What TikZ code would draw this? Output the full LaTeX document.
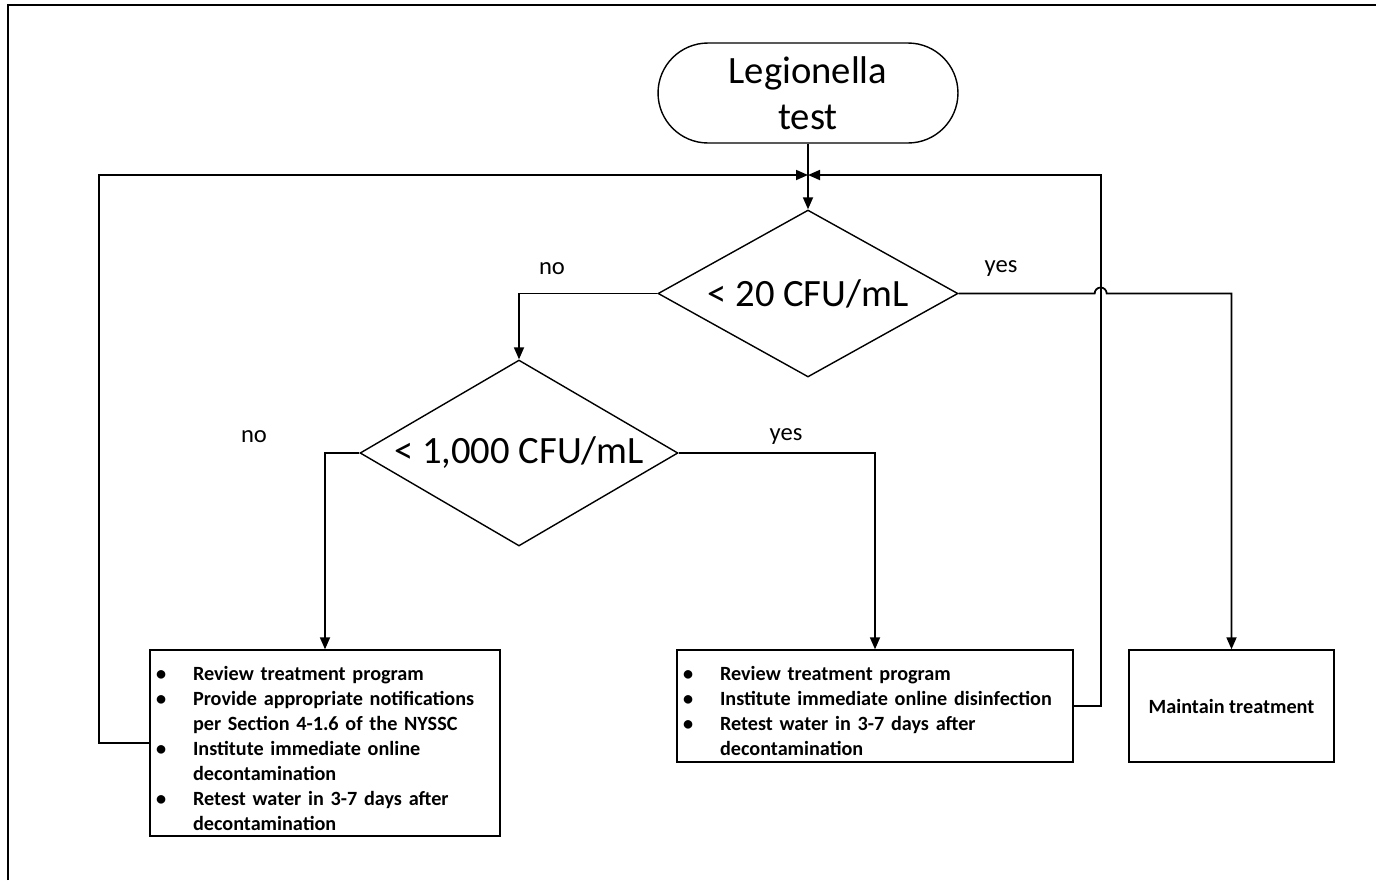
\documentclass[tikz,border=0pt]{standalone}
\usepackage{fontspec}
\setmainfont{Carlito}
\usetikzlibrary{shapes.geometric,arrows.meta,positioning}
\tikzset{
startbox/.style={
  draw, line width=0.8pt,
  rounded corners=1cm,
  minimum width=6cm, minimum height=2cm,
  align=center,
  font=\fontsize{22}{22}\selectfont
  },
testbox/.style={
  draw, diamond, line width=0.8pt,
  inner sep=0pt,
  font=\fontsize{22}{26}\selectfont
  },
actbox/.style={
  draw, line width=0.8pt,
  inner sep=0pt,
  align=left,
  font=\bfseries\fontsize{11.5}{14.2}\selectfont
  },
lbl/.style={font=\fontsize{14}{16}\selectfont}
}
\newenvironment{todolist}{%
  \begin{list}{\textbullet}{%
    \setlength{\leftmargin}{0.86cm}%
    \setlength{\labelwidth}{0.86cm}%
    \setlength{\labelsep}{0pt}%
    \setlength{\itemsep}{0pt}%
    \setlength{\parsep}{0pt}%
    \setlength{\topsep}{0pt}%
    \setlength{\partopsep}{0pt}%
    \renewcommand{\makelabel}[1]{\hspace{0.12cm}##1\hfil}}%
  \raggedright}
  {\end{list}}

\begin{document}
\begin{tikzpicture}[x=0.02cm, y=-0.02cm, >={Triangle[length=0.24cm,width=0.2cm]}]
\useasboundingbox (0,0) rectangle (1376,880);
\draw[line width=1.5pt] (8,880) -- (8,5) -- (1376,5);

\node[startbox] (start) at (808,93) {Legionella\\[4pt]test};

\node[testbox, minimum width=6cm, minimum height=3.34cm, shape aspect=1.8]
  (test20) at (808,293.5) {\textless{} 20 CFU/mL};

\node[testbox, minimum width=6.36cm, minimum height=3.72cm, shape aspect=1.71]
  (test1000) at (519,453) {\textless{} 1,000 CFU/mL};

\node[actbox, text width=7cm, minimum height=3.72cm]
  (act1000) at (325,743)
{
\begin{todolist}
\item Review treatment program
\item Provide appropriate notifications\\per Section 4-1.6 of the NYSSC
\item Institute immediate online\\decontamination
\item Retest water in 3-7 days after\\decontamination
\end{todolist}
};

\node[actbox, text width=7.92cm, minimum height=2.24cm]
  (act20) at (875,706)
{
\begin{todolist}
\item Review treatment program
\item Institute immediate online disinfection
\item Retest water in 3-7 days after\\decontamination
\end{todolist}
};

\node[actbox, align=center, minimum width=4.1cm, minimum height=2.24cm]
  (keep) at (1231.5,706) {Maintain treatment};

\node[lbl] (no20) at (552,269) {no};
\node[lbl] (yes20) at (1001,269) {yes};
\node[lbl] (no1000) at (254,437) {no};
\node[lbl] (yes1000) at (786,437) {yes};

\coordinate (back) at (808,175);
\coordinate (lloop) at ([xshift=-1cm]act1000.west);
\coordinate (rloop) at ([xshift=0.54cm]act20.east);
\coordinate (hop) at (rloop |- test20.east);

\begin{scope}[line width=1pt]
\draw[->] (start) -- (test20);
\draw[->] (test20.west) -| (test1000.north);
\draw[->] (test1000.west) -| (act1000.north);
\draw[->] (test1000.east) -| (act20.north);
\draw[->] (test20.east) -- ([xshift=-0.12cm]hop)
  arc[start angle=180, end angle=0, radius=0.12cm]
  -- (keep.north |- test20.east) -- (keep.north);
\draw[->] (act1000.west) -- (lloop) |- (back);
\draw[->] (act20.east) -- (rloop) |- (back);
\end{scope}
\end{tikzpicture}
\end{document}
